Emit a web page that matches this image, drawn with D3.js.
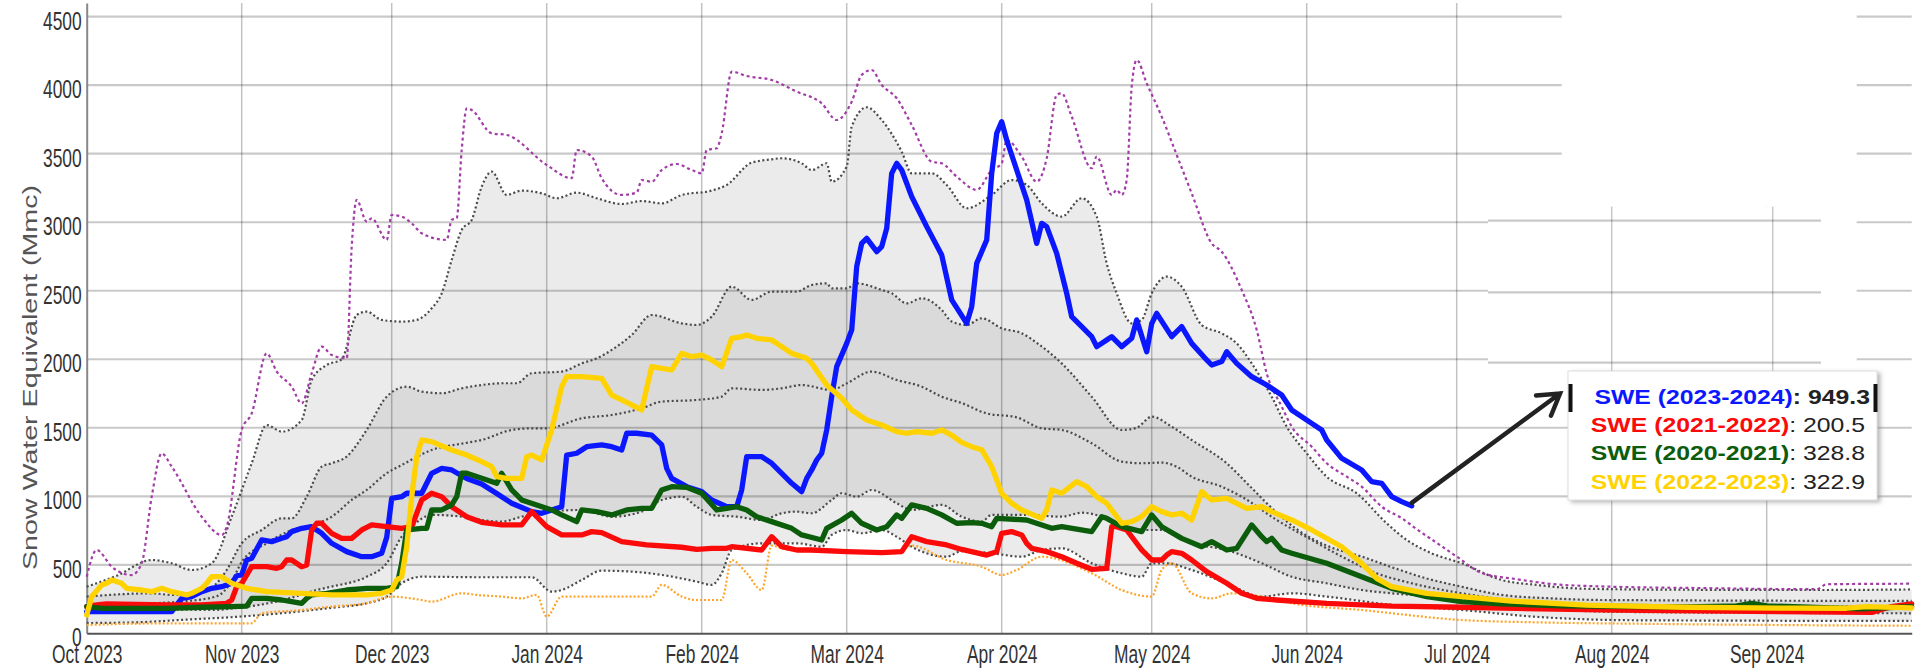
<!DOCTYPE html>
<html><head><meta charset="utf-8">
<script src="https://cdn.jsdelivr.net/npm/d3@7"></script>
<style>html,body{margin:0;padding:0;background:#fff;overflow:hidden}</style>
</head><body>
<svg id="chart" width="1915" height="670"></svg>
<script>
// ---------- DATA ----------
const seasonStart = "2023-10-01";
const seasonEnd = "2024-09-30";
const monthStarts = ["2023-10-01","2023-11-01","2023-12-01","2024-01-01","2024-02-01","2024-03-01","2024-04-01","2024-05-01","2024-06-01","2024-07-01","2024-08-01","2024-09-01"];
const monthLabels = ["Oct 2023","Nov 2023","Dec 2023","Jan 2024","Feb 2024","Mar 2024","Apr 2024","May 2024","Jun 2024","Jul 2024","Aug 2024","Sep 2024"];
const yTickValues = [0,500,1000,1500,2000,2500,3000,3500,4000,4500];
const yTickLabels = ["0","500","1000","1500","2000","2500","3000","3500","4000","4500"];
const yTitle = "Snow Water Equivalent (Mmc)";

// each point: [days since 1 Oct 2023, SWE]
const sweMax = [[0,413],[2,608],[5,486],[9,425],[11,510],[13,997],[15,1313],[17,1216],[23,851],[27,717],[28,778],[31,1484],[33,1605],[36,2043],[38,1910],[41,1800],[43,1678],[45,1897],[47,2092],[49,2031],[52,2007],[53,2822],[54,3163],[56,3004],[57,3028],[60,2871],[61,3053],[63,3041],[65,2992],[67,2919],[72,2871],[73,3017],[74,3028],[75,3527],[76,3831],[77,3819],[81,3649],[84,3637],[92,3418],[97,3321],[98,3527],[101,3479],[103,3321],[107,3199],[110,3216],[111,3308],[113,3296],[115,3381],[118,3425],[121,3381],[123,3357],[124,3527],[126,3540],[127,3649],[129,4099],[132,4067],[137,4038],[142,3953],[147,3868],[150,3746],[153,3880],[155,4075],[157,4111],[159,4002],[162,3905],[165,3710],[169,3442],[171,3430],[174,3333],[178,3236],[181,3381],[183,3430],[184,3600],[187,3479],[190,3296],[192,3467],[194,3929],[195,3941],[197,3771],[201,3394],[202,3479],[205,3199],[206,3236],[207,3199],[208,3308],[209,3990],[210,4184],[212,4014],[215,3771],[218,3491],[221,3211],[225,2846],[227,2785],[231,2506],[234,2214],[236,1897],[239,1654],[241,1508],[245,1362],[248,1241],[252,1143],[255,1070],[259,924],[263,840],[266,760],[270,660],[274,560],[279,440],[286,395],[293,360],[303,342],[323,330],[346,322],[348,358],[365,362]];
const sweP90 = [[0,340],[6,420],[13,535],[17,511],[21,462],[25,511],[29,851],[33,1241],[36,1520],[39,1472],[43,1557],[45,1849],[48,1958],[51,2000],[54,2323],[56,2348],[59,2287],[63,2275],[66,2287],[69,2372],[71,2481],[73,2725],[75,2944],[77,3017],[79,3260],[81,3369],[84,3199],[87,3231],[91,3211],[94,3175],[98,3216],[102,3175],[107,3133],[111,3155],[115,3138],[119,3199],[125,3231],[128,3272],[133,3435],[137,3459],[139,3467],[143,3430],[145,3381],[148,3430],[149,3296],[152,3406],[153,3698],[156,3839],[159,3746],[163,3515],[165,3357],[169,3357],[172,3272],[176,3102],[181,3199],[185,3308],[188,3272],[191,3138],[195,3041],[199,3175],[202,3041],[204,2700],[206,2481],[209,2262],[211,2287],[213,2481],[216,2603],[219,2530],[223,2250],[227,2189],[230,2116],[233,1970],[237,1727],[240,1508],[244,1314],[248,1143],[254,1022],[260,803],[264,681],[269,584],[275,511],[283,389],[290,353],[300,325],[320,318],[345,316],[365,320]];
const sweP75 = [[0,268],[13,292],[17,280],[23,304],[26,365],[28,462],[31,657],[35,754],[39,839],[41,839],[44,997],[47,1216],[49,1241],[52,1290],[56,1484],[60,1727],[64,1800],[67,1764],[71,1752],[75,1788],[79,1812],[83,1825],[86,1825],[89,1898],[95,1910],[99,1970],[102,2007],[105,2068],[109,2177],[113,2323],[119,2262],[122,2250],[125,2311],[129,2530],[133,2433],[137,2494],[142,2494],[145,2542],[148,2554],[149,2518],[152,2518],[154,2554],[159,2506],[161,2481],[164,2408],[167,2445],[171,2360],[173,2275],[176,2250],[179,2299],[183,2226],[187,2190],[190,2120],[195,1970],[201,1727],[207,1484],[210,1500],[213,1581],[217,1508],[221,1411],[228,1241],[233,1060],[238,880],[242,760],[248,640],[255,560],[262,470],[268,400],[275,340],[283,280],[293,255],[303,243],[365,236]];
const sweMedian = [[0,200],[10,215],[20,235],[26,270],[29,380],[31,520],[36,657],[41,754],[46,800],[49,851],[53,973],[56,1046],[60,1168],[63,1228],[69,1338],[76,1390],[79,1411],[85,1484],[89,1496],[92,1496],[99,1569],[105,1593],[111,1642],[115,1691],[122,1703],[127,1727],[129,1788],[135,1776],[139,1788],[143,1812],[149,1776],[152,1824],[157,1910],[162,1849],[167,1800],[171,1727],[175,1680],[180,1605],[186,1576],[191,1496],[195,1484],[201,1387],[207,1253],[211,1241],[215,1246],[218,1216],[221,1143],[227,1070],[231,997],[238,827],[245,681],[251,560],[258,438],[265,365],[275,292],[285,240],[300,210],[365,195]];
const sweP25 = [[0,175],[15,175],[25,170],[30,185],[35,210],[40,250],[46,316],[49,341],[56,413],[60,511],[63,705],[65,778],[69,864],[75,851],[79,827],[83,815],[87,851],[92,888],[99,900],[105,851],[111,888],[115,973],[119,997],[122,924],[125,864],[130,851],[135,827],[139,876],[142,888],[145,876],[149,973],[151,1022],[154,997],[157,1046],[162,949],[165,900],[171,937],[175,851],[179,815],[181,864],[188,864],[195,851],[199,880],[203,851],[207,778],[211,754],[215,754],[221,657],[228,608],[235,511],[241,413],[248,365],[255,316],[261,292],[275,255],[290,180],[310,155],[365,146]];
const sweP10 = [[0,75],[10,80],[20,100],[30,120],[40,150],[50,190],[56,219],[60,268],[63,365],[67,413],[79,409],[89,409],[93,304],[95,316],[99,389],[103,457],[109,450],[115,426],[122,377],[125,353],[127,438],[129,608],[135,657],[142,657],[147,632],[149,718],[152,754],[155,730],[159,754],[162,705],[165,632],[172,559],[175,600],[181,584],[187,559],[191,608],[195,620],[201,511],[207,438],[211,413],[213,511],[216,511],[221,462],[228,365],[235,268],[241,292],[248,268],[261,207],[275,170],[290,120],[310,95],[365,90]];
const sweMin = [[0,61],[16,73],[33,73],[35,146],[43,170],[49,195],[56,219],[59,255],[61,268],[67,243],[69,231],[75,292],[78,280],[83,268],[87,255],[90,280],[92,122],[95,268],[113,268],[115,353],[119,268],[122,243],[127,243],[129,535],[132,438],[135,316],[137,640],[140,610],[152,590],[162,585],[165,640],[172,535],[179,486],[183,426],[186,462],[191,559],[201,438],[207,316],[213,268],[215,462],[217,511],[221,292],[225,255],[229,292],[235,268],[241,219],[255,170],[275,97],[290,80],[310,70],[340,60],[365,55]];

const swe2023_2024 = [[0,158],[17,158],[19,255],[21,268],[23,304],[25,328],[27,340],[29,365],[30,420],[31,426],[32,535],[33,547],[35,681],[37,669],[39,693],[40,705],[41,742],[43,766],[45,778],[47,730],[49,657],[52,596],[55,559],[57,559],[59,584],[60,700],[61,985],[63,997],[64,1022],[67,1022],[68,1095],[69,1168],[71,1204],[73,1192],[76,1130],[79,1090],[82,1020],[85,949],[89,888],[91,876],[93,900],[95,924],[96,1301],[98,1314],[100,1362],[103,1375],[105,1362],[107,1338],[108,1460],[110,1460],[113,1447],[115,1375],[116,1204],[117,1131],[120,1070],[123,1034],[125,973],[128,924],[130,924],[131,1046],[132,1289],[135,1289],[137,1241],[139,1168],[141,1095],[143,1034],[144,1131],[145,1192],[146,1265],[147,1314],[148,1484],[149,1727],[150,1946],[152,2116],[153,2214],[154,2676],[155,2846],[156,2882],[158,2785],[159,2822],[160,2955],[161,3357],[162,3430],[163,3381],[165,3187],[168,2968],[171,2761],[173,2433],[176,2262],[177,2384],[178,2700],[180,2870],[181,3357],[182,3649],[183,3734],[184,3600],[186,3381],[188,3163],[190,2846],[191,2992],[192,2968],[194,2773],[196,2481],[197,2311],[199,2238],[201,2165],[202,2092],[204,2141],[205,2165],[207,2092],[209,2153],[210,2287],[212,2055],[213,2260],[214,2335],[217,2165],[219,2238],[221,2116],[224,1995],[225,1958],[227,1983],[228,2055],[230,1970],[233,1873],[236,1812],[239,1739],[241,1630],[245,1532],[247,1484],[248,1411],[251,1277],[255,1192],[257,1107],[259,1095],[261,997],[263,961],[265,930]];
const swe2021_2022 = [[0,195],[2,207],[4,214],[16,207],[23,207],[28,219],[29,243],[30,340],[31,365],[33,486],[36,486],[38,474],[39,486],[40,535],[41,535],[43,486],[44,498],[45,754],[46,803],[47,803],[49,730],[51,693],[53,693],[55,754],[57,791],[60,778],[63,766],[65,778],[67,973],[69,1022],[71,997],[73,924],[76,851],[79,810],[83,791],[87,791],[89,888],[92,778],[95,718],[99,718],[101,742],[103,735],[107,669],[112,645],[119,628],[122,613],[125,620],[128,620],[129,632],[135,608],[137,705],[139,632],[142,608],[145,608],[152,596],[159,589],[163,596],[165,705],[168,669],[172,645],[175,612],[180,571],[182,596],[183,730],[185,742],[187,718],[188,657],[189,620],[192,596],[195,559],[198,511],[201,467],[204,474],[205,778],[206,778],[208,754],[211,608],[213,535],[215,535],[216,571],[217,596],[219,584],[221,535],[224,450],[228,365],[231,292],[234,255],[238,243],[248,219],[261,199],[275,190],[286,182],[306,170],[333,160],[357,152],[361,195],[365,215]];
const swe2020_2021 = [[0,195],[3,182],[16,182],[23,190],[29,195],[32,199],[33,255],[36,255],[39,243],[41,231],[43,219],[44,255],[45,280],[48,292],[52,316],[56,328],[60,328],[62,340],[63,511],[64,754],[67,766],[68,766],[69,900],[71,900],[73,937],[74,997],[75,1168],[76,1168],[79,1131],[82,1095],[83,1168],[85,1046],[87,973],[90,937],[93,900],[95,864],[98,815],[99,900],[102,888],[105,864],[108,900],[111,912],[113,912],[115,1046],[117,1070],[120,1065],[123,1022],[126,900],[128,912],[130,924],[132,900],[134,851],[137,815],[141,766],[143,718],[147,681],[148,766],[151,827],[153,876],[155,803],[158,754],[160,778],[162,864],[163,839],[165,937],[168,912],[171,864],[174,803],[177,808],[179,803],[181,778],[182,839],[188,827],[193,766],[195,778],[201,742],[203,851],[204,839],[207,778],[211,742],[213,864],[215,778],[219,693],[223,632],[225,669],[228,608],[230,620],[233,791],[235,705],[236,669],[237,693],[239,608],[241,584],[248,511],[255,413],[261,328],[268,268],[275,231],[283,215],[295,200],[320,192],[330,200],[333,218],[336,200],[355,178],[365,195]];
const swe2022_2023 = [[0,134],[1,268],[3,353],[4,365],[5,389],[7,365],[8,328],[11,316],[13,304],[15,328],[17,304],[20,280],[21,292],[23,328],[24,365],[25,413],[27,413],[29,365],[32,328],[36,304],[43,292],[49,280],[56,280],[59,292],[61,316],[62,389],[63,413],[64,632],[65,997],[66,1289],[67,1411],[69,1399],[73,1338],[76,1301],[79,1253],[81,1216],[82,1143],[84,1131],[87,1131],[88,1289],[89,1301],[91,1265],[93,1484],[95,1800],[96,1873],[99,1873],[103,1861],[105,1739],[107,1703],[111,1630],[113,1946],[115,1934],[117,1922],[119,2043],[121,2019],[123,2031],[125,1995],[127,1946],[129,2153],[131,2165],[132,2177],[134,2153],[137,2141],[139,2092],[141,2043],[144,2007],[145,1970],[148,1812],[151,1715],[153,1630],[156,1557],[159,1520],[162,1472],[164,1460],[166,1472],[169,1460],[171,1484],[173,1447],[175,1393],[177,1362],[179,1340],[181,1216],[183,1022],[185,949],[187,900],[191,839],[192,900],[193,1046],[195,1022],[198,1107],[200,1070],[202,997],[204,949],[207,803],[209,815],[211,851],[213,924],[215,888],[217,864],[219,876],[221,827],[223,1034],[225,973],[228,985],[232,912],[235,924],[237,888],[241,827],[245,754],[251,632],[255,511],[258,401],[261,340],[268,292],[275,268],[285,235],[300,205],[320,190],[340,183],[352,183],[356,195],[365,185]];

const tooltipLabels = ["SWE (2023-2024)","SWE (2021-2022)","SWE (2020-2021)","SWE (2022-2023)"];
const tooltipValues = ["949.3","200.5","328.8","322.9"];
const seriesColors = ["#0b17ff","#fb0a0a","#0b5c0b","#ffd200"];

// ---------- CHART ----------
const svg = d3.select("#chart");
const FONT = "'Liberation Sans', Arial, Helvetica, sans-serif";
const t0 = Date.parse(seasonStart + "T00:00:00Z");
const toDate = d => new Date(t0 + d * 864e5);

const x = d3.scaleUtc().domain([new Date(t0), new Date(seasonEnd + "T00:00:00Z")]).range([86.7, 1911.7]);
const y = d3.scaleLinear().domain([0, 4600]).range([633.3, 3.0]);

const lineGen = (curve) => d3.line().x(p => x(toDate(p[0]))).y(p => y(p[1])).curve(curve);
const smooth = lineGen(d3.curveMonotoneX);
const sharp = lineGen(d3.curveLinear);

function bandPath(upper, lower) {
  const a = smooth(upper);
  const b = smooth(lower.slice().reverse());
  return a + "L" + b.slice(1) + "Z";
}

// bands
svg.append("path").attr("d", bandPath(sweP90, sweP10)).attr("fill", "#ebebeb");
svg.append("path").attr("d", bandPath(sweP75, sweP25)).attr("fill", "#dadada");

// gridlines
const monthDates = monthStarts.map(s => new Date(s + "T00:00:00Z"));
const grid = svg.append("g");
grid.selectAll("line.h").data(yTickValues.filter(v => v > 0)).join("line")
  .attr("x1", x.range()[0]).attr("x2", x.range()[1])
  .attr("y1", d => y(d)).attr("y2", d => y(d))
  .attr("stroke", "#000").attr("stroke-opacity", 0.21).attr("stroke-width", 2.2);
grid.selectAll("line.v").data(monthDates.slice(1)).join("line")
  .attr("x1", d => x(d)).attr("x2", d => x(d))
  .attr("y1", y.range()[1]).attr("y2", y.range()[0])
  .attr("stroke", "#000").attr("stroke-opacity", 0.24).attr("stroke-width", 1.5);

// erased / patched region of the gridlines (as in the reference image)
svg.append("rect").attr("x", 1561.7).attr("y", 0).attr("width", 295).attr("height", 206.7).attr("fill", "#fff");
svg.append("rect").attr("x", 1488).attr("y", 206.7).attr("width", 368.7).attr("height", 164.5).attr("fill", "#fff");
const patch = svg.append("g");
patch.selectAll("line.ph").data([3000, 2500, 2000]).join("line")
  .attr("x1", 1488).attr("x2", 1821)
  .attr("y1", d => y(d) + (d === 3000 ? -1.7 : d === 2500 ? 1.7 : 3.4))
  .attr("y2", d => y(d) + (d === 3000 ? -1.7 : d === 2500 ? 1.7 : 3.4))
  .attr("stroke", "#000").attr("stroke-opacity", 0.21).attr("stroke-width", 2.2);
patch.selectAll("line.pv").data([monthDates[10], monthDates[11]]).join("line")
  .attr("x1", (d, i) => x(d) + (i ? 6 : 0)).attr("x2", (d, i) => x(d) + (i ? 6 : 0))
  .attr("y1", 206.7).attr("y2", 371)
  .attr("stroke", "#000").attr("stroke-opacity", 0.22).attr("stroke-width", 1.5);

// axes
const yAxis = d3.axisLeft(y).tickValues(yTickValues).tickFormat((d, i) => yTickLabels[i]).tickSize(0).tickSizeOuter(0);
const gy = svg.append("g").attr("transform", `translate(${x.range()[0]},0)`).call(yAxis);
gy.select(".domain").attr("stroke", "#888").attr("stroke-width", 2);
gy.selectAll(".tick text").attr("x", 0).attr("y", 0).attr("dy", null)
  .attr("transform", "translate(-5,12.3) scale(1,1.43)")
  .attr("text-anchor", "end").attr("fill", "#333")
  .style("font-family", FONT).style("font-size", "17.4px");

const xAxis = d3.axisBottom(x).tickValues(monthDates).tickFormat((d, i) => monthLabels[i]).tickSize(0).tickSizeOuter(0);
const gx = svg.append("g").attr("transform", `translate(0,${y(0)})`).call(xAxis);
gx.select(".domain").attr("stroke", "#555").attr("stroke-width", 2);
gx.selectAll(".tick text").attr("y", 0).attr("dy", null)
  .attr("transform", "translate(0,30) scale(1,1.46)")
  .attr("text-anchor", "middle").attr("fill", "#333")
  .style("font-family", FONT).style("font-size", "17.4px");

// y title
svg.append("text").text(yTitle)
  .attr("transform", "translate(37,377.5) rotate(-90)")
  .attr("text-anchor", "middle").attr("textLength", 385).attr("lengthAdjust", "spacingAndGlyphs")
  .attr("fill", "#555").style("font-family", FONT).style("font-size", "21px");

// dotted statistic lines
const dotted = [
  [sweP90, "#4a4a4a", "2,2.5"], [sweP75, "#4a4a4a", "2,2.5"], [sweMedian, "#4a4a4a", "2,2.5"],
  [sweP25, "#4a4a4a", "2,2.5"], [sweP10, "#4a4a4a", "2,2.5"],
  [sweMax, "#a23ca6", "3,3"], [sweMin, "#ffa42a", "2,2"]
];
dotted.forEach(([data, color, dash]) => {
  svg.append("path").attr("d", smooth(data)).attr("fill", "none")
    .attr("stroke", color).attr("stroke-width", 2.2).attr("stroke-dasharray", dash);
});

// season lines
[swe2023_2024, swe2021_2022, swe2020_2021, swe2022_2023].forEach((data, i) => {
  svg.append("path").attr("d", sharp(data)).attr("fill", "none")
    .attr("stroke", seriesColors[i]).attr("stroke-width", 5.3)
    .attr("stroke-linejoin", "round").attr("stroke-linecap", "round");
});

// arrow from last point of current season to tooltip
const last = swe2023_2024[swe2023_2024.length - 1];
const ax0 = x(toDate(last[0])), ay0 = y(last[1]) - 3;
const ax1 = 1560, ay1 = 393.5;
const ang = Math.atan2(ay1 - ay0, ax1 - ax0);
const armL = 24, spread = 0.55;
const arm = s => [ax1 - armL * Math.cos(ang + s), ay1 - armL * Math.sin(ang + s)];
const a1 = arm(spread), a2 = arm(-spread);
svg.append("path").attr("d", `M${ax0},${ay0}L${ax1},${ay1}M${a1[0]},${a1[1]}L${ax1},${ay1}L${a2[0]},${a2[1]}`)
  .attr("fill", "none").attr("stroke", "#222").attr("stroke-width", 4.5)
  .attr("stroke-linejoin", "miter").attr("stroke-linecap", "round");

// tooltip
const defs = svg.append("defs");
const f = defs.append("filter").attr("id", "shadow").attr("x", "-10%").attr("y", "-10%").attr("width", "130%").attr("height", "130%");
f.append("feDropShadow").attr("dx", 3).attr("dy", 2).attr("stdDeviation", 2).attr("flood-color", "#888").attr("flood-opacity", 0.6);
const tip = svg.append("g");
tip.append("rect").attr("x", 1568).attr("y", 371).attr("width", 309).attr("height", 129)
  .attr("fill", "#fff").attr("stroke", "#ddd").attr("stroke-width", 1).attr("filter", "url(#shadow)");
tip.append("rect").attr("x", 1568.5).attr("y", 384).attr("width", 4).attr("height", 28).attr("fill", "#111");
tip.append("rect").attr("x", 1873.5).attr("y", 384).attr("width", 4).attr("height", 28).attr("fill", "#111");
const rowBase = [404.3, 431.7, 460.3, 489];
const rowEnd = [1870, 1865, 1865, 1865];
tooltipLabels.forEach((lab, i) => {
  const t = tip.append("text").attr("transform", `translate(${rowEnd[i]},${rowBase[i]}) scale(1.24,1)`)
    .attr("text-anchor", "end").style("font-family", FONT).style("font-size", "20px");
  t.append("tspan").text(lab).attr("fill", seriesColors[i]).attr("font-weight", "bold");
  t.append("tspan").text(": " + tooltipValues[i]).attr("fill", "#222").attr("font-weight", i === 0 ? "bold" : "normal");
});
</script>
</body></html>
